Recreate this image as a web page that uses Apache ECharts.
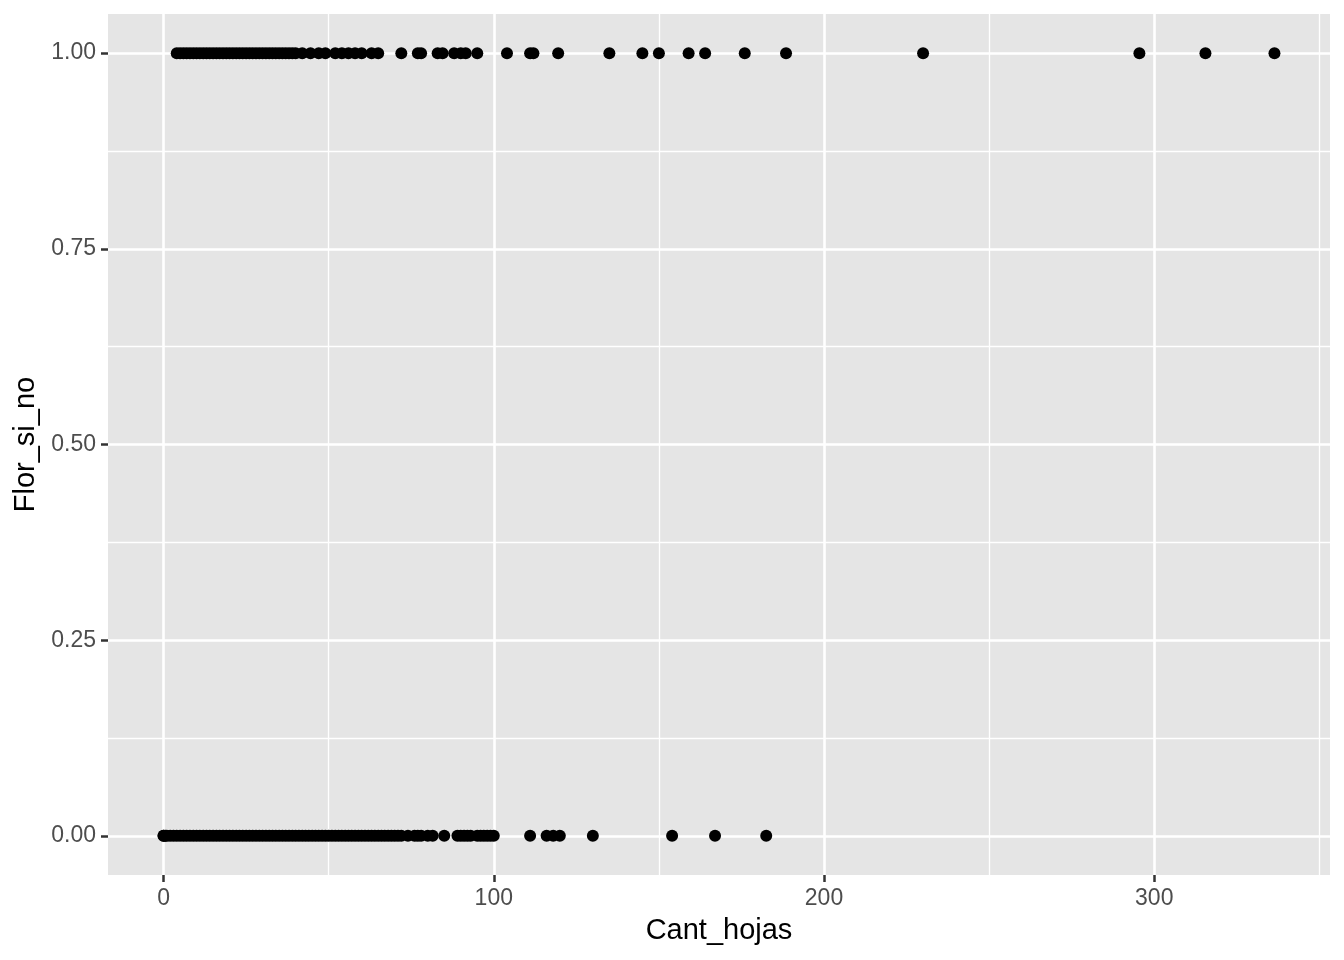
<!DOCTYPE html>
<html>
<head>
<meta charset="utf-8">
<script src="https://cdn.jsdelivr.net/npm/echarts@6/dist/echarts.min.js"></script>
<style>
html,body{margin:0;padding:0;background:#fff;}
#chart{width:1344px;height:960px;}
</style>
</head>
<body>
<div id="chart"></div>
<script>
// Cant_hojas values for plants with Flor_si_no = 1
const floweredX = [4,5,6,7,8,9,10,11,12,13,14,15,16,17,18,19,20,21,22,23,24,25,26,27,28,29,30,31,32,33,34,35,36,37,38,39,40,
  42,44.5,47,49,52,54,56,58,60,63,65,72,77,78,83,84.5,88,90,91.5,95,104,111,112,119.5,135,145,150,159,164,176,188.5,230,295.5,315.5,336.4];
// Cant_hojas values for plants with Flor_si_no = 0
const notFloweredX = [0,0,0.5,1,2,3,4,5,6,7,8,9,10,11,12,13,14,15,16,17,18,19,20,21,22,23,24,25,26,27,28,29,30,31,32,33,34,35,36,37,38,39,40,
  41,42,43,44,45,46,47,48,49,50,51,52,53,54,55,56,57,58,59,60,61,62,63,64,65,66,67,68,69,70,71,72,74,76,77,78,80,81.5,85,89,90,91,92,93,95,96,97,98,99,100,
  111,116,118,120,130,154,167,182.5];
const xTicks = [0,100,200,300];
const xMinorTicks = [50,150,250,350];
const yTicks = [0,0.25,0.5,0.75,1];
const yMinorTicks = [0.125,0.375,0.625,0.875];
const xTitle = 'Cant_hojas';
const yTitle = 'Flor_si_no';

const points = floweredX.map(x => [x, 1]).concat(notFloweredX.map(x => [x, 0]));
const allX = floweredX.concat(notFloweredX);
const dxMin = Math.min(...allX), dxMax = Math.max(...allX);
const xPad = (dxMax - dxMin) * 0.05;
const yPad = 0.05;

const FONT = '"Liberation Sans", Arial, Helvetica, sans-serif';
const chart = echarts.init(document.getElementById('chart'), null, {renderer: 'canvas'});
chart.setOption({
  animation: false,
  backgroundColor: '#ffffff',
  grid: {left: 108, top: 14, right: 14, bottom: 85, show: true, backgroundColor: '#E5E5E5', borderWidth: 0},
  xAxis: [{
    type: 'value', position: 'bottom', min: dxMin - xPad, max: dxMax + xPad,
    name: xTitle, nameLocation: 'middle', nameGap: 41,
    nameTextStyle: {color: '#000', fontSize: 29, fontFamily: FONT},
    axisLine: {show: false, onZero: false},
    axisTick: {show: true, length: 7, customValues: xTicks, lineStyle: {color: '#333333', width: 2.5}},
    axisLabel: {customValues: xTicks, color: '#4D4D4D', fontSize: 23, margin: 12, fontFamily: FONT},
    splitLine: {show: true, lineStyle: {color: '#ffffff', width: 2.6}}
  }, {
    type: 'value', position: 'top', min: dxMin - xPad, max: dxMax + xPad,
    axisLine: {show: false, onZero: false}, axisTick: {show: false, customValues: xMinorTicks},
    axisLabel: {show: false, customValues: xMinorTicks},
    splitLine: {show: true, lineStyle: {color: '#ffffff', width: 1.3}}
  }],
  yAxis: [{
    type: 'value', position: 'left', min: -yPad, max: 1 + yPad,
    name: yTitle, nameLocation: 'middle', nameGap: 66, nameRotate: 90,
    nameTextStyle: {color: '#000', fontSize: 29, fontFamily: FONT},
    axisLine: {show: false, onZero: false},
    axisTick: {show: true, length: 7, customValues: yTicks, lineStyle: {color: '#333333', width: 2.5}},
    axisLabel: {customValues: yTicks, color: '#4D4D4D', fontSize: 23, margin: 12, fontFamily: FONT,
      formatter: v => Number(v).toFixed(2)},
    splitLine: {show: true, lineStyle: {color: '#ffffff', width: 2.6}}
  }, {
    type: 'value', position: 'right', min: -yPad, max: 1 + yPad,
    axisLine: {show: false, onZero: false}, axisTick: {show: false, customValues: yMinorTicks},
    axisLabel: {show: false, customValues: yMinorTicks},
    splitLine: {show: true, lineStyle: {color: '#ffffff', width: 1.3}}
  }],
  series: [{
    type: 'scatter', xAxisIndex: 0, yAxisIndex: 0,
    symbol: 'circle', symbolSize: 12,
    itemStyle: {color: '#000000', opacity: 1},
    data: points
  }]
});
</script>
</body>
</html>
